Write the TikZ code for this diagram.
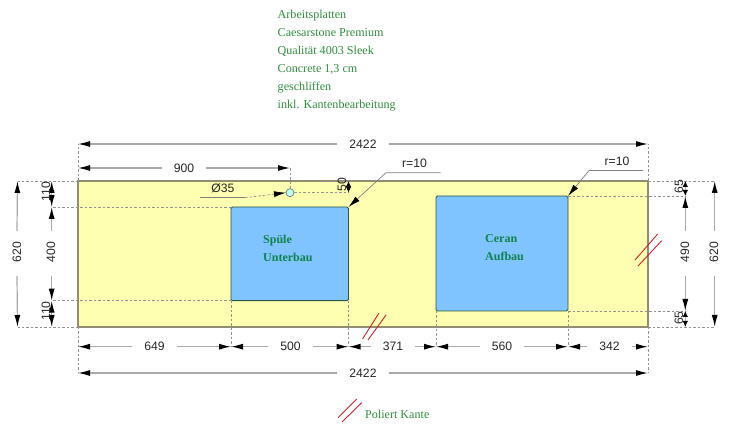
\documentclass[tikz,border=0pt]{standalone}
\usepackage{fontspec}
\setmainfont{Liberation Sans}
\newfontfamily\noteface{Liberation Serif}
\usetikzlibrary{calc, arrows.meta, positioning}

\definecolor{slabyellow}{RGB}{255,255,178}
\definecolor{cutblue}{RGB}{128,196,255}
\definecolor{notegreen}{RGB}{50,140,65}
\definecolor{cutgreen}{RGB}{15,130,75}
\definecolor{dimgray}{RGB}{170,170,170}
\definecolor{polishred}{RGB}{205,35,45}

\tikzset{
  dim/.style={draw=dimgray, line width=1.2pt, -{Latex[length=12pt,width=6pt,color=black]}},
  dimboth/.style={draw=dimgray, line width=1.2pt, {Latex[length=12pt,width=6pt,color=black]}-{Latex[length=12pt,width=6pt,color=black]}},
  dimshort/.style={draw=dimgray, line width=1pt, {Latex[length=6pt,width=5.5pt,color=black]}-{Latex[length=6pt,width=5.5pt,color=black]}},
  ext/.style={draw=gray!85, line width=0.7pt, dash pattern=on 2.5pt off 2pt},
  leader/.style={draw=gray, line width=0.7pt},
  dimtext/.style={font=\fontsize{12.2}{14}\selectfont, inner ysep=1pt, inner xsep=12pt, outer sep=0pt, text=black!85},
  dimvert/.style={dimtext, rotate=90, inner xsep=12pt},
  dimtight/.style={dimtext, rotate=90, inner xsep=0pt, inner ysep=0pt},
  cutout/.style={draw=black!45!cutgreen!70!gray, fill=cutblue, rectangle, rounded corners=1.5pt, inner sep=0pt, outer sep=0pt, line width=0.9pt},
  polish/.style={draw=polishred, line width=0.9pt},
  notetext/.style={font=\noteface\fontsize{12.1}{18}\selectfont, text=notegreen, align=left, inner sep=0pt, anchor=north west},
  cuttext/.style={font=\noteface\bfseries\fontsize{12}{18}\selectfont, text=cutgreen, align=left, inner sep=0pt, anchor=north west},
}

\begin{document}
\begin{tikzpicture}[x=1pt, y=-1pt]

  \useasboundingbox (0,0) rectangle (750,427);

  % levels of the dimension lines
  \coordinate (lvtotal) at (0,144);
  \coordinate (lvdrill) at (0,168);
  \coordinate (lvchain) at (0,346.7);
  \coordinate (lvbase) at (0,373);
  \coordinate (lvleftA) at (17.5,0);
  \coordinate (lvleftB) at (51.7,0);
  \coordinate (lvrightA) at (685.3,0);
  \coordinate (lvrightB) at (714.7,0);

  % plate and cut-outs
  \node (slab) [draw=gray!80!olive, fill=slabyellow, rectangle, inner sep=0pt, outer sep=0pt, line width=1.1pt, minimum width=570pt, minimum height=146pt] at (363,254) {};
  \node (sink) [cutout, minimum width=117.5pt, minimum height=93.7pt] at (289.75,253.85) {};
  \node (ceran) [cutout, minimum width=132pt, minimum height=115pt] at (502,253.5) {};
  \node (hole) [circle, draw=gray!80!black, fill=green!25!cyan!25, minimum size=8pt, inner sep=0pt, outer sep=0pt, line width=0.6pt] at (290,192.7) {};

  % texts
  \node (title) [notetext] at (277.5,9.5) {Arbeitsplatten\\Caesarstone Premium\\Qualität 4003 Sleek\\Concrete 1,3 cm\\geschliffen\\inkl. Kantenbearbeitung};
  \node (sinktext) [cuttext] at (263,235) {Spüle\\Unterbau};
  \node (cerantext) [cuttext] at (485,234) {Ceran\\Aufbau};
  \node (legendtext) [notetext, anchor=west] at (365,414.5) {Poliert Kante};

  % extension lines
  \draw[ext] (slab.north west) -- (slab.north west |- lvtotal);
  \draw[ext] (slab.north east) -- (slab.north east |- lvtotal);
  \draw[ext] (hole.north) -- (hole.north |- lvdrill);
  \draw[ext] (slab.south west) -- (slab.south west |- lvbase);
  \draw[ext] (slab.south east) -- (slab.south east |- lvbase);
  \draw[ext] (sink.south west) -- (sink.south west |- lvchain);
  \draw[ext] (sink.south east) -- (sink.south east |- lvchain);
  \draw[ext] (ceran.south west) -- (ceran.south west |- lvchain);
  \draw[ext] (ceran.south east) -- (ceran.south east |- lvchain);
  \draw[ext] (slab.north west) -- (slab.north west -| lvleftA);
  \draw[ext] (slab.south west) -- (slab.south west -| lvleftA);
  \draw[ext] (sink.north west) -- (sink.north west -| lvleftB);
  \draw[ext] (sink.south west) -- (sink.south west -| lvleftB);
  \draw[ext] (slab.north east) -- (slab.north east -| lvrightB);
  \draw[ext] (slab.south east) -- (slab.south east -| lvrightB);
  \draw[ext] (ceran.north east) -- (ceran.north east -| lvrightA);
  \draw[ext] (ceran.south east) -- (ceran.south east -| lvrightA);
  \draw[ext] (hole.east) -- (hole.east -| sink.north east);
  \draw[ext] (320,181) -- (slab.north west -| sink.north east);

  % horizontal dimensions
  \node (totaltop) [dimtext] at (363,144) {2422};
  \draw[dim] (totaltop) -- (slab.north west |- lvtotal);
  \draw[dim] (totaltop) -- (slab.north east |- lvtotal);

  \node (drill) [dimtext] at (184,168) {900};
  \draw[dim] (drill) -- (slab.north west |- lvdrill);
  \draw[dim] (drill) -- (hole.north |- lvdrill);

  \node (chainA) [dimtext] at (154.5,346.7) {649};
  \draw[dim] (chainA) -- (slab.south west |- lvchain);
  \draw[dim] (chainA) -- (sink.south west |- lvchain);
  \node (chainB) [dimtext] at (290.5,346.7) {500};
  \draw[dim] (chainB) -- (sink.south west |- lvchain);
  \draw[dim] (chainB) -- (sink.south east |- lvchain);
  \node (chainC) [dimtext] at (393,346.7) {371};
  \draw[dim] (chainC) -- (sink.south east |- lvchain);
  \draw[dim] (chainC) -- (ceran.south west |- lvchain);
  \node (chainD) [dimtext] at (502,346.7) {560};
  \draw[dim] (chainD) -- (ceran.south west |- lvchain);
  \draw[dim] (chainD) -- (ceran.south east |- lvchain);
  \node (chainE) [dimtext] at (609.5,346.7) {342};
  \draw[dim] (chainE) -- (ceran.south east |- lvchain);
  \draw[dim] (chainE) -- (slab.south east |- lvchain);

  \node (totalbase) [dimtext] at (363,373) {2422};
  \draw[dim] (totalbase) -- (slab.south west |- lvbase);
  \draw[dim] (totalbase) -- (slab.south east |- lvbase);

  % vertical dimensions, left
  \node (heightleft) [dimvert] at (17,252) {620};
  \draw[dim] (heightleft.east |- 0,231) -- (slab.north west -| lvleftA);
  \draw[dim] (heightleft.west |- 0,276) -- (slab.south west -| lvleftA);
  \node (sinkheight) [dimvert] at (51,252) {400};
  \draw[dim] (51.7,231) -- (sink.north west -| lvleftB);
  \draw[dim] (51.7,276) -- (sink.south west -| lvleftB);
  \draw[dimboth] (slab.north west -| lvleftB) -- (sink.north west -| lvleftB);
  \draw[dimboth] (sink.south west -| lvleftB) -- (slab.south west -| lvleftB);
  \node (marginA) [dimtight] at (46,191.5) {110};
  \node (marginB) [dimtight] at (46,311) {110};

  % vertical dimensions, right
  \node (heightright) [dimvert] at (714,252) {620};
  \draw[dim] (714.7,231) -- (slab.north east -| lvrightB);
  \draw[dim] (714.7,276) -- (slab.south east -| lvrightB);
  \node (ceranheight) [dimvert] at (685,252) {490};
  \draw[dim] (685.3,231) -- (ceran.north east -| lvrightA);
  \draw[dim] (685.3,276) -- (ceran.south east -| lvrightA);
  \draw[dimshort] (slab.north east -| lvrightA) -- (ceran.north east -| lvrightA);
  \draw[dimshort] (ceran.south east -| lvrightA) -- (slab.south east -| lvrightA);
  \node (marginC) [dimtight] at (679,187) {65};
  \node (marginD) [dimtight] at (679,318) {65};

  % hole position and diameter
  \draw[dimshort] (slab.north west -| sink.north east) -- (hole.east -| sink.north east);
  \node (holedist) [dimtight] at (342,185) {50};

  \node (diameter) [dimtext, inner xsep=0pt] at (223,188) {Ø35};
  \coordinate (diaA) at (200,197.7);
  \coordinate (diaB) at (245,197.7);
  \draw[leader] (diaA) -- (diaB);
  \draw[ext, -{Latex[length=12pt,width=6pt,color=black]}] (diaB) -- (hole.west);

  % corner radius leaders
  \node (radiusA) [dimtext, inner xsep=0pt] at (414.5,163) {r=10};
  \coordinate (radAend) at (440.7,172.7);
  \coordinate (radAbend) at (386,172.7);
  \draw[leader, -{Latex[length=12pt,width=6pt,color=black]}] (radAend) -- (radAbend) -- (sink.north east);
  \node (radiusB) [dimtext, inner xsep=0pt] at (617,161.5) {r=10};
  \coordinate (radBend) at (643,170.5);
  \coordinate (radBbend) at (589,170.5);
  \draw[leader, -{Latex[length=12pt,width=6pt,color=black]}] (radBend) -- (radBbend) -- (ceran.north east);

  % polished edge marks
  \draw[polish] (362.5,339) -- (379,313);
  \draw[polish] (368,340) -- (386,315);
  \draw[polish] (635,260) -- (657.7,234);
  \draw[polish] (638,266) -- (661.7,240.7);
  \draw[polish] (338,417.7) -- (356.7,399);
  \draw[polish] (342,422) -- (361.7,402.7);

\end{tikzpicture}
\end{document}
